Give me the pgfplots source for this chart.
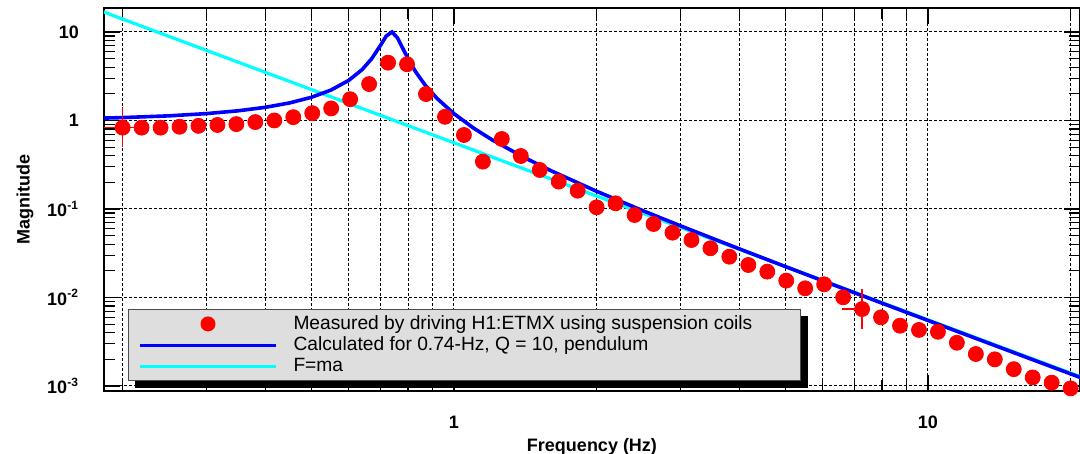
\documentclass[border=0pt]{standalone}
\usepackage{pgfplots}
\pgfplotsset{compat=1.18}
\usepackage{fontspec}
\setmainfont{Liberation Sans}
\pgfdeclarelayer{background}
\pgfsetlayers{background,main}
\definecolor{lgray}{RGB}{221,222,221}
\definecolor{pred}{RGB}{255,0,0}
\definecolor{pblue}{RGB}{0,0,255}
\definecolor{pcyan}{RGB}{0,255,255}
\begin{document}
\begin{tikzpicture}
\begin{axis}[
    name=ax,
    xmode=log, ymode=log,
    scale only axis,
    width=488pt, height=191.5pt,
    xmin=0.1827, xmax=20.93,
    ymin=0.000878, ymax=18.67,
    xtick={1,10}, xticklabels={1,10},
    minor xtick={0.2,0.3,0.4,0.5,0.6,0.7,0.8,0.9,2,3,4,5,6,7,8,9,20},
    ytick={0.001,0.01,0.1,1,10},
    yticklabels={10\textsuperscript{-3},10\textsuperscript{-2},10\textsuperscript{-1},1,10},
    minor ytick={0.002,0.003,0.004,0.005,0.006,0.007,0.008,0.009,
                 0.02,0.03,0.04,0.05,0.06,0.07,0.08,0.09,
                 0.2,0.3,0.4,0.5,0.6,0.7,0.8,0.9,
                 2,3,4,5,6,7,8,9},
    tick align=inside,
    major tick length=8pt, minor tick length=5.5pt,
    tick style={black, line width=0.6pt},
    axis line style={black, line width=1pt},
    xmajorgrids=true, xminorgrids=true, ymajorgrids=true,
    major grid style={black, line width=0.5pt, dash pattern=on 1.5pt off 1pt},
    minor grid style={black, line width=0.5pt, dash pattern=on 1.5pt off 1pt},
    ticklabel style={font=\bfseries\fontsize{9}{10}\selectfont},
    yticklabel style={xshift=-9pt},
    xticklabel style={yshift=-9pt},
    xlabel={Frequency (Hz)},
    ylabel={Magnitude},
    label style={font=\bfseries\fontsize{9}{10}\selectfont},
    xlabel style={at={(axis description cs:0.5,-0.146)}, anchor=center},
    ylabel style={at={(axis description cs:-0.081,0.5)}, anchor=center},
    legend cell align=left,
    legend style={name=leg, at={(0.0246,0.0261)}, anchor=south west,
        fill=lgray, draw=black!70, line width=0.5pt,
        font=\fontsize{9.6}{11}\selectfont,
        nodes={inner ysep=1.1pt},
        column sep=6pt, inner xsep=5pt, inner ysep=2pt},
]
% F=ma
\addplot[pcyan, line width=1.6pt, forget plot] coordinates {(0.18,17.28) (21,0.00127)};
% calculated pendulum, f0=0.74 Hz, Q=10
\addplot[pblue, line width=1.8pt, forget plot] coordinates {
(0.18,1.0625) (0.2,1.0783) (0.25,1.1280) (0.3,1.1953) (0.35,1.2858) (0.4,1.4087)
(0.45,1.5794) (0.5,1.8260) (0.55,2.2040) (0.6,2.8405) (0.64,3.7532) (0.67,4.9577)
(0.7,7.069) (0.72,9.013) (0.74,10.0) (0.76,8.591) (0.78,6.532) (0.8,4.990)
(0.83,3.554) (0.87,2.5007) (0.92,1.7869) (1.0,1.1946) (1.1,0.82052) (1.2,0.61061)
(1.4,0.38667) (1.6,0.27164) (2,0.15847) (2.5,0.095979) (3,0.064764) (4,0.035431)
(5,0.022392) (6,0.015445) (8,0.0086297) (10,0.005506) (13,0.0032507) (16,0.0021436)
(21,0.0012433)};
% error bars
\addplot[pred, only marks, mark=none, forget plot,
    error bars/.cd, x dir=both, x explicit, y dir=both, y explicit,
    error mark=none, error bar style={pred, line width=0.6pt}] coordinates {
(0.2,0.83) += (0.02,0.59) -= (0.025,0.328)
(7.262,0.0074) += (0.29,0.0051) -= (0.68,0.003)};
% measured
\addplot[pred, only marks, mark=*, mark size=3.75pt, forget plot] coordinates {
(0.2,0.83) (0.2193,0.83) (0.2405,0.83) (0.2637,0.85) (0.2891,0.87) (0.3170,0.89)
(0.3476,0.91) (0.3811,0.96) (0.4179,1.0) (0.4582,1.09) (0.5024,1.21) (0.5508,1.37)
(0.6040,1.74) (0.6623,2.58) (0.7262,4.5) (0.7962,4.32) (0.8730,1.99) (0.9573,1.10)
(1.0496,0.686) (1.1509,0.343) (1.2619,0.618) (1.3837,0.397) (1.5172,0.276) (1.6635,0.204)
(1.8240,0.161) (2.0,0.1045) (2.193,0.116) (2.405,0.0855) (2.637,0.0677) (2.891,0.054)
(3.170,0.0446) (3.476,0.036) (3.811,0.0289) (4.179,0.0233) (4.582,0.0196) (5.024,0.0155)
(5.508,0.0127) (6.040,0.0141) (6.623,0.01005) (7.262,0.0074) (7.962,0.00597) (8.730,0.0048)
(9.573,0.0043) (10.496,0.0041) (11.509,0.00308) (12.619,0.0023) (13.837,0.002) (15.172,0.00155)
(16.635,0.00125) (18.240,0.00109) (20.0,0.00094)};
\addlegendimage{legend image code/.code={\path[draw=none] (0pt,0pt) -- (68pt,0pt); \fill[pred, draw=none] (34pt,0pt) circle[radius=3.75pt];}}
\addlegendentry{Measured by driving H1:ETMX using suspension coils\hspace*{17pt}\mbox{}}
\addlegendimage{legend image code/.code={\draw[pblue, line width=1.5pt] (0pt,0pt) -- (68pt,0pt);}}
\addlegendentry{Calculated for 0.74-Hz, Q = 10, pendulum}
\addlegendimage{legend image code/.code={\draw[pcyan, line width=1.5pt] (0pt,0pt) -- (68pt,0pt);}}
\addlegendentry{F=ma}
\end{axis}
\begin{pgfonlayer}{background}
\fill[black] ([xshift=3.5pt,yshift=-3.5pt]leg.south west) rectangle ([xshift=3.5pt,yshift=-3.5pt]leg.north east);
\end{pgfonlayer}
\pgfresetboundingbox
\useasboundingbox ([xshift=-52pt,yshift=-31.5pt]ax.south west) rectangle ([yshift=4pt]ax.north east);
\end{tikzpicture}
\end{document}
